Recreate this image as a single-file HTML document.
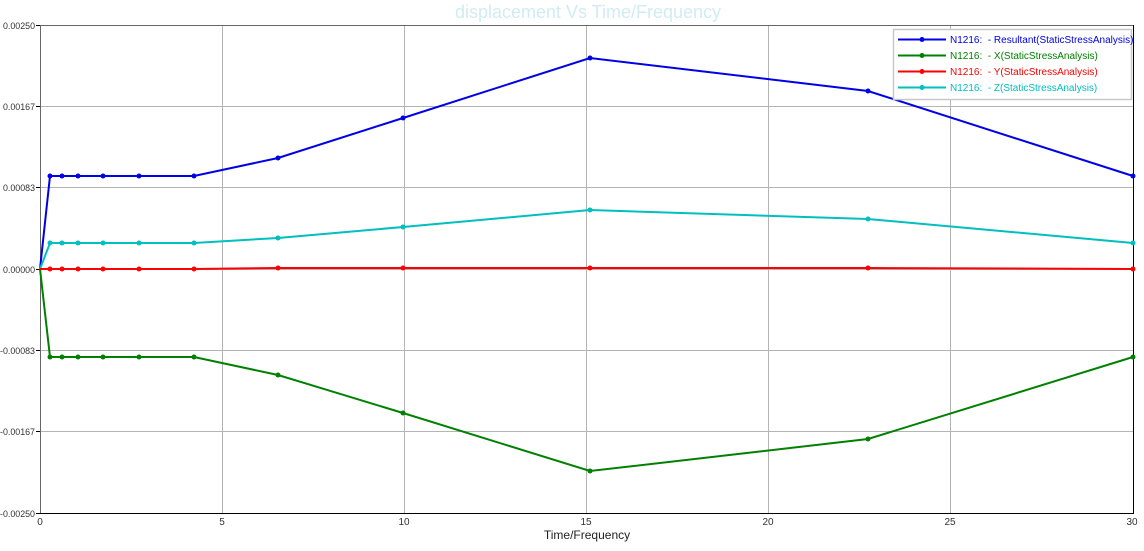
<!DOCTYPE html>
<html><head><style>body{margin:0;background:#fff}</style></head><body>
<svg width="1144" height="546" xmlns="http://www.w3.org/2000/svg" font-family="Liberation Sans, Arial, sans-serif">
<rect width="1144" height="546" fill="#fff"/>
<text x="588" y="18" text-anchor="middle" font-size="18" fill="#d0ecf3">displacement Vs Time/Frequency</text>
<g stroke="#b4b4b4" stroke-width="1">
<line x1="222.5" y1="25" x2="222.5" y2="513"/><line x1="404.5" y1="25" x2="404.5" y2="513"/><line x1="586.5" y1="25" x2="586.5" y2="513"/><line x1="768.5" y1="25" x2="768.5" y2="513"/><line x1="950.5" y1="25" x2="950.5" y2="513"/>
<line x1="40" y1="106.5" x2="1133" y2="106.5"/><line x1="40" y1="187.5" x2="1133" y2="187.5"/><line x1="40" y1="269.5" x2="1133" y2="269.5"/><line x1="40" y1="350.5" x2="1133" y2="350.5"/><line x1="40" y1="431.5" x2="1133" y2="431.5"/>
</g>
<line x1="40" y1="25.5" x2="1134" y2="25.5" stroke="#666"/>
<line x1="40.5" y1="25" x2="40.5" y2="513" stroke="#666"/>
<line x1="1133.5" y1="25" x2="1133.5" y2="513" stroke="#000"/>
<line x1="36" y1="513.5" x2="1134" y2="513.5" stroke="#000"/>
<g stroke="#000"><line x1="36" y1="25.5" x2="40" y2="25.5"/><line x1="36" y1="106.5" x2="40" y2="106.5"/><line x1="36" y1="187.5" x2="40" y2="187.5"/><line x1="36" y1="269.5" x2="40" y2="269.5"/><line x1="36" y1="350.5" x2="40" y2="350.5"/><line x1="36" y1="431.5" x2="40" y2="431.5"/></g>
<g font-size="9.5" fill="#333">
<text x="3" y="29" textLength="32" lengthAdjust="spacingAndGlyphs">0.00250</text>
<text x="3" y="110" textLength="32" lengthAdjust="spacingAndGlyphs">0.00167</text>
<text x="3" y="191" textLength="32" lengthAdjust="spacingAndGlyphs">0.00083</text>
<text x="3" y="273" textLength="32" lengthAdjust="spacingAndGlyphs">0.00000</text>
<text x="0" y="354" textLength="35" lengthAdjust="spacingAndGlyphs">-0.00083</text>
<text x="0" y="435" textLength="35" lengthAdjust="spacingAndGlyphs">-0.00167</text>
<text x="0" y="517" textLength="35" lengthAdjust="spacingAndGlyphs">-0.00250</text>
</g>
<g font-size="10" fill="#333" text-anchor="middle">
<text x="40" y="525">0</text><text x="222" y="525">5</text><text x="404" y="525">10</text><text x="586" y="525">15</text><text x="768" y="525">20</text><text x="950" y="525">25</text><text x="1132" y="525">30</text>
</g>
<text x="587" y="539" font-size="12" fill="#222" text-anchor="middle">Time/Frequency</text>
<g fill="none" stroke-width="2">
<polyline stroke="#0000e6" points="40,269 50,176 62,176 78,176 103,176 139,176 194,176 278,158 403,118 590,58 868,91 1133,176"/>
<polyline stroke="#008000" points="40,269 50,357 62,357 78,357 103,357 139,357 194,357 278,375 403,413 590,471 868,439 1133,357"/>
<polyline stroke="#00bfbf" points="40,269 50,243 62,243 78,243 103,243 139,243 194,243 278,238 403,227 590,210 868,219 1133,243"/>
<polyline stroke="#ff0000" points="40,269 50,269 62,269 78,269 103,269 139,269 194,269 278,268 403,268 590,268 868,268 1133,269"/>
</g>
<g fill="#0000e6"><circle cx="50" cy="176" r="2.5"/><circle cx="62" cy="176" r="2.5"/><circle cx="78" cy="176" r="2.5"/><circle cx="103" cy="176" r="2.5"/><circle cx="139" cy="176" r="2.5"/><circle cx="194" cy="176" r="2.5"/><circle cx="278" cy="158" r="2.5"/><circle cx="403" cy="118" r="2.5"/><circle cx="590" cy="58" r="2.5"/><circle cx="868" cy="91" r="2.5"/><circle cx="1133" cy="176" r="2.5"/></g>
<g fill="#008000"><circle cx="50" cy="357" r="2.5"/><circle cx="62" cy="357" r="2.5"/><circle cx="78" cy="357" r="2.5"/><circle cx="103" cy="357" r="2.5"/><circle cx="139" cy="357" r="2.5"/><circle cx="194" cy="357" r="2.5"/><circle cx="278" cy="375" r="2.5"/><circle cx="403" cy="413" r="2.5"/><circle cx="590" cy="471" r="2.5"/><circle cx="868" cy="439" r="2.5"/><circle cx="1133" cy="357" r="2.5"/></g>
<g fill="#00bfbf"><circle cx="50" cy="243" r="2.5"/><circle cx="62" cy="243" r="2.5"/><circle cx="78" cy="243" r="2.5"/><circle cx="103" cy="243" r="2.5"/><circle cx="139" cy="243" r="2.5"/><circle cx="194" cy="243" r="2.5"/><circle cx="278" cy="238" r="2.5"/><circle cx="403" cy="227" r="2.5"/><circle cx="590" cy="210" r="2.5"/><circle cx="868" cy="219" r="2.5"/><circle cx="1133" cy="243" r="2.5"/></g>
<g fill="#ff0000"><circle cx="50" cy="269" r="2.5"/><circle cx="62" cy="269" r="2.5"/><circle cx="78" cy="269" r="2.5"/><circle cx="103" cy="269" r="2.5"/><circle cx="139" cy="269" r="2.5"/><circle cx="194" cy="269" r="2.5"/><circle cx="278" cy="268" r="2.5"/><circle cx="403" cy="268" r="2.5"/><circle cx="590" cy="268" r="2.5"/><circle cx="868" cy="268" r="2.5"/><circle cx="1133" cy="269" r="2.5"/></g>
<rect x="893.5" y="29.5" width="238" height="70" fill="#fff" stroke="#c8c8c8" stroke-width="1.5"/>
<g stroke-width="2">
<line x1="898" y1="39.5" x2="946" y2="39.5" stroke="#0000e6"/><circle cx="922" cy="39.5" r="2.5" fill="#0000e6"/>
<line x1="898" y1="55.5" x2="946" y2="55.5" stroke="#008000"/><circle cx="922" cy="55.5" r="2.5" fill="#008000"/>
<line x1="898" y1="71.5" x2="946" y2="71.5" stroke="#ff0000"/><circle cx="922" cy="71.5" r="2.5" fill="#ff0000"/>
<line x1="898" y1="87.5" x2="946" y2="87.5" stroke="#00bfbf"/><circle cx="922" cy="87.5" r="2.5" fill="#00bfbf"/>
</g>
<g font-size="10">
<text x="950" y="43" fill="#0000e6">N1216:&#160;&#160;- Resultant(StaticStressAnalysis)</text>
<text x="950" y="59" fill="#008000">N1216:&#160;&#160;- X(StaticStressAnalysis)</text>
<text x="950" y="75" fill="#ff0000">N1216:&#160;&#160;- Y(StaticStressAnalysis)</text>
<text x="950" y="91" fill="#00bfbf">N1216:&#160;&#160;- Z(StaticStressAnalysis)</text>
</g>
</svg>
</body></html>
